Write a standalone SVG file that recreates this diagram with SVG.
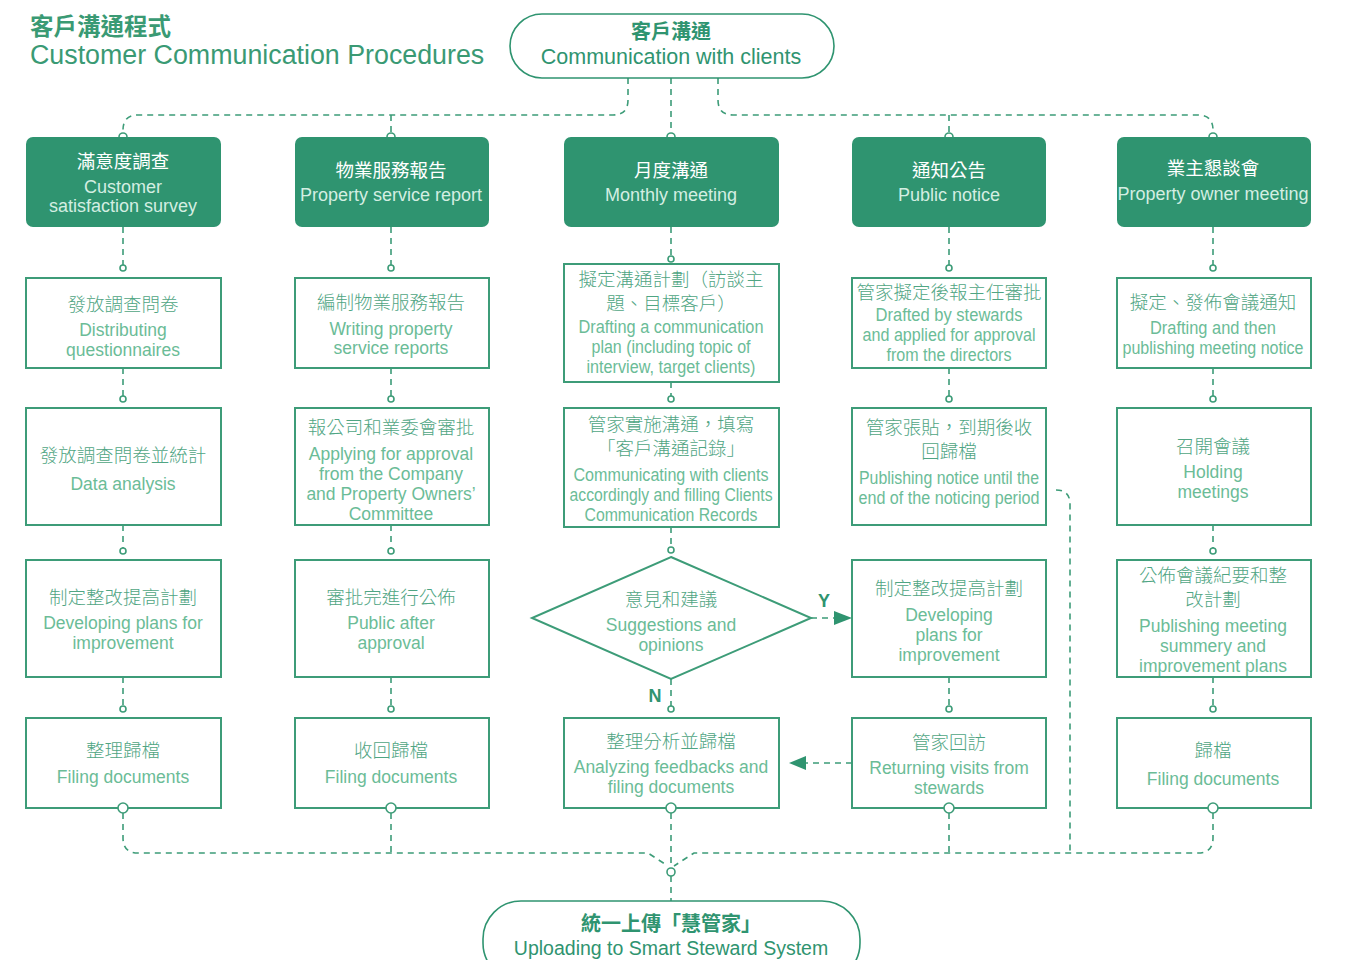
<svg xmlns="http://www.w3.org/2000/svg" width="1345" height="960" viewBox="0 0 1345 960">
<style>
text{font-family:"Liberation Sans","Noto Sans CJK TC",sans-serif;text-anchor:middle}
.cn{font-family:"Noto Sans CJK TC","Noto Sans",sans-serif;font-size:18.5px;fill:#4fa583;font-weight:300}
.en{font-size:17.5px;fill:#6bbc97}
.hcn{font-family:"Noto Sans CJK TC","Noto Sans",sans-serif;font-size:18.5px;fill:#ffffff}
.hen{font-size:18px;fill:#d4eee2}
.hdr{fill:#2f9470}
.box{fill:#fff;stroke:#3d9c78;stroke-width:2}
.pill{fill:#fff;stroke:#2f9470;stroke-width:1.6}
.dash{fill:none;stroke:#3d9c78;stroke-width:1.6;stroke-dasharray:6 5}
.dot{fill:#fff;stroke:#3d9c78;stroke-width:1.6}
.arr{fill:#2f9470}
.lbl{font-size:18px;fill:#2f9470;font-weight:bold}
.tcn{font-family:"Noto Sans CJK TC","Noto Sans",sans-serif;fill:#2f9470;font-weight:bold}
.ten{fill:#2f9470}
</style>
<rect width="1345" height="960" fill="#fff"/>
<g id="title">
<text x="30" y="35" class="tcn" style="text-anchor:start;font-size:23.5px;fill:#3a9a74">客戶溝通程式</text>
<text x="30" y="64" class="ten" style="text-anchor:start;font-size:26.8px;fill:#3a9a74">Customer Communication Procedures</text>
</g>
<g id="connectors">
<path class="dash" d="M628,78 V100 Q628,115 613,115 H138 Q123,115 123,130 V133"/>
<path class="dash" d="M718,78 V100 Q718,115 733,115 H1198 Q1213,115 1213,130 V133"/>
<path class="dash" d="M391,115 V133 M949,115 V133 M671,78 V133"/>
<circle class="dot" cx="123" cy="137" r="4"/><circle class="dot" cx="391" cy="137" r="4"/><circle class="dot" cx="671" cy="137" r="4"/><circle class="dot" cx="949" cy="137" r="4"/><circle class="dot" cx="1213" cy="137" r="4"/>
<path class="dash" d="M123,227 V265 M391,227 V265 M671,227 V256 M949,227 V265 M1213,227 V265"/>
<circle class="dot" cx="123" cy="268" r="3"/><circle class="dot" cx="391" cy="268" r="3"/><circle class="dot" cx="671" cy="259" r="3"/><circle class="dot" cx="949" cy="268" r="3"/><circle class="dot" cx="1213" cy="268" r="3"/>
<path class="dash" d="M123,368 V396 M391,368 V396 M671,382 V396 M949,368 V396 M1213,368 V396"/>
<circle class="dot" cx="123" cy="399" r="3"/><circle class="dot" cx="391" cy="399" r="3"/><circle class="dot" cx="671" cy="399" r="3"/><circle class="dot" cx="949" cy="399" r="3"/><circle class="dot" cx="1213" cy="399" r="3"/>
<path class="dash" d="M123,525 V548 M391,525 V548 M671,527 V547 M1213,525 V548"/>
<circle class="dot" cx="123" cy="551" r="3"/><circle class="dot" cx="391" cy="551" r="3"/><circle class="dot" cx="671" cy="550" r="3"/><circle class="dot" cx="1213" cy="551" r="3"/>
<path class="dash" d="M123,677 V706 M391,677 V706 M671,679 V706 M949,677 V706 M1213,677 V706"/>
<circle class="dot" cx="123" cy="709" r="3"/><circle class="dot" cx="391" cy="709" r="3"/><circle class="dot" cx="671" cy="709" r="3"/><circle class="dot" cx="949" cy="709" r="3"/><circle class="dot" cx="1213" cy="709" r="3"/>
<path class="dash" d="M811,618 H836"/>
<polygon class="arr" points="834,611 852,618 834,625"/>
<path class="dash" d="M852,763 H806"/>
<polygon class="arr" points="789,763 806,756 806,770"/>
<path class="dash" d="M123,813 V838 Q123,853 138,853 H648 L668,866"/>
<path class="dash" d="M1213,813 V838 Q1213,853 1198,853 H694 L674,866"/>
<path class="dash" d="M391,813 V853 M949,813 V853 M671,813 V868 M671,876 V901"/>
<path class="dash" d="M1056,490 Q1070,490 1070,504 V853"/>
<circle class="dot" cx="671" cy="872" r="4"/>
<text x="824" y="607" class="lbl">Y</text>
<text x="655" y="702" class="lbl">N</text>
</g>
<g id="start">
<rect class="pill" x="510" y="14" width="324" height="64" rx="32"/>
<text x="671" y="39" class="tcn" style="font-size:20px">客戶溝通</text>
<text x="671" y="64" class="ten" style="font-size:21.5px">Communication with clients</text>
</g>
<g id="end">
<rect class="pill" x="483" y="901" width="377" height="80" rx="38"/>
<text x="671" y="931" class="tcn" style="font-size:20px">統一上傳「慧管家」</text>
<text x="671" y="955" class="ten" style="font-size:19.5px">Uploading to Smart Steward System</text>
</g>
<g id="h1"><rect class="hdr" x="26" y="137" width="195" height="90" rx="7"/>
<text x="123" y="168" class="hcn">滿意度調查</text><text x="123" y="193" class="hen">Customer</text><text x="123" y="212" class="hen">satisfaction survey</text></g>
<g id="h2"><rect class="hdr" x="295" y="137" width="194" height="90" rx="7"/>
<text x="391" y="177" class="hcn">物業服務報告</text><text x="391" y="201" class="hen">Property service report</text></g>
<g id="h3"><rect class="hdr" x="564" y="137" width="215" height="90" rx="7"/>
<text x="671" y="177" class="hcn">月度溝通</text><text x="671" y="201" class="hen">Monthly meeting</text></g>
<g id="h4"><rect class="hdr" x="852" y="137" width="194" height="90" rx="7"/>
<text x="949" y="177" class="hcn">通知公告</text><text x="949" y="201" class="hen">Public notice</text></g>
<g id="h5"><rect class="hdr" x="1117" y="137" width="194" height="90" rx="7"/>
<text x="1213" y="175" class="hcn">業主懇談會</text><text x="1213" y="200" class="hen">Property owner meeting</text></g>
<g id="r2c1"><rect class="box" x="26" y="278" width="195" height="90"/>
<text x="123" y="311" class="cn">發放調查問卷</text><text x="123" y="336" class="en">Distributing</text><text x="123" y="356" class="en">questionnaires</text></g>
<g id="r2c2"><rect class="box" x="295" y="278" width="194" height="90"/>
<text x="391" y="309" class="cn">編制物業服務報告</text><text x="391" y="335" class="en">Writing property</text><text x="391" y="354" class="en">service reports</text></g>
<g id="r2c3"><rect class="box" x="564" y="264" width="215" height="118"/>
<text x="671" y="286" class="cn">擬定溝通計劃（訪談主</text><text x="671" y="310" class="cn">題、目標客戶）</text>
<text x="671" y="333" class="en" textLength="185" lengthAdjust="spacingAndGlyphs">Drafting a communication</text><text x="671" y="353" class="en" textLength="159" lengthAdjust="spacingAndGlyphs">plan (including topic of</text><text x="671" y="373" class="en" textLength="169" lengthAdjust="spacingAndGlyphs">interview, target clients)</text></g>
<g id="r2c4"><rect class="box" x="852" y="278" width="194" height="90"/>
<text x="949" y="299" class="cn">管家擬定後報主任審批</text><text x="949" y="321" class="en" textLength="147" lengthAdjust="spacingAndGlyphs">Drafted by stewards</text><text x="949" y="341" class="en" textLength="173" lengthAdjust="spacingAndGlyphs">and applied for approval</text><text x="949" y="361" class="en" textLength="125" lengthAdjust="spacingAndGlyphs">from the directors</text></g>
<g id="r2c5"><rect class="box" x="1117" y="278" width="194" height="90"/>
<text x="1213" y="309" class="cn">擬定、發佈會議通知</text><text x="1213" y="334" class="en" textLength="126" lengthAdjust="spacingAndGlyphs">Drafting and then</text><text x="1213" y="354" class="en" textLength="181" lengthAdjust="spacingAndGlyphs">publishing meeting notice</text></g>
<g id="r3c1"><rect class="box" x="26" y="408" width="195" height="117"/>
<text x="123" y="462" class="cn">發放調查問卷並統計</text><text x="123" y="490" class="en">Data analysis</text></g>
<g id="r3c2"><rect class="box" x="295" y="408" width="194" height="117"/>
<text x="391" y="434" class="cn">報公司和業委會審批</text><text x="391" y="460" class="en">Applying for approval</text><text x="391" y="480" class="en">from the Company</text><text x="391" y="500" class="en">and Property Owners’</text><text x="391" y="520" class="en">Committee</text></g>
<g id="r3c3"><rect class="box" x="564" y="408" width="215" height="119"/>
<text x="671" y="431" class="cn">管家實施溝通，填寫</text><text x="671" y="455" class="cn">「客戶溝通記錄」</text>
<text x="671" y="481" class="en" textLength="195" lengthAdjust="spacingAndGlyphs">Communicating with clients</text><text x="671" y="501" class="en" textLength="203" lengthAdjust="spacingAndGlyphs">accordingly and filling Clients</text><text x="671" y="521" class="en" textLength="173" lengthAdjust="spacingAndGlyphs">Communication Records</text></g>
<g id="r3c4"><rect class="box" x="852" y="408" width="194" height="117"/>
<text x="949" y="434" class="cn">管家張貼，到期後收</text><text x="949" y="458" class="cn">回歸檔</text><text x="949" y="484" class="en" textLength="180" lengthAdjust="spacingAndGlyphs">Publishing notice until the</text><text x="949" y="504" class="en" textLength="181" lengthAdjust="spacingAndGlyphs">end of the noticing period</text></g>
<g id="r3c5"><rect class="box" x="1117" y="408" width="194" height="117"/>
<text x="1213" y="453" class="cn">召開會議</text><text x="1213" y="478" class="en">Holding</text><text x="1213" y="498" class="en">meetings</text></g>
<g id="r4c1"><rect class="box" x="26" y="560" width="195" height="117"/>
<text x="123" y="604" class="cn">制定整改提高計劃</text><text x="123" y="629" class="en">Developing plans for</text><text x="123" y="649" class="en">improvement</text></g>
<g id="r4c2"><rect class="box" x="295" y="560" width="194" height="117"/>
<text x="391" y="604" class="cn">審批完進行公佈</text><text x="391" y="629" class="en">Public after</text><text x="391" y="649" class="en">approval</text></g>
<g id="r4c3"><polygon class="box" points="671,557 811,618 671,679 532,618"/>
<text x="671" y="606" class="cn">意見和建議</text><text x="671" y="631" class="en">Suggestions and</text><text x="671" y="651" class="en">opinions</text></g>
<g id="r4c4"><rect class="box" x="852" y="560" width="194" height="117"/>
<text x="949" y="595" class="cn">制定整改提高計劃</text><text x="949" y="621" class="en">Developing</text><text x="949" y="641" class="en">plans for</text><text x="949" y="661" class="en">improvement</text></g>
<g id="r4c5"><rect class="box" x="1117" y="560" width="194" height="117"/>
<text x="1213" y="582" class="cn">公佈會議紀要和整</text><text x="1213" y="606" class="cn">改計劃</text><text x="1213" y="632" class="en">Publishing meeting</text><text x="1213" y="652" class="en">summery and</text><text x="1213" y="672" class="en">improvement plans</text></g>
<g id="r5c1"><rect class="box" x="26" y="718" width="195" height="90"/>
<text x="123" y="757" class="cn">整理歸檔</text><text x="123" y="783" class="en">Filing documents</text></g>
<g id="r5c2"><rect class="box" x="295" y="718" width="194" height="90"/>
<text x="391" y="757" class="cn">收回歸檔</text><text x="391" y="783" class="en">Filing documents</text></g>
<g id="r5c3"><rect class="box" x="564" y="718" width="215" height="90"/>
<text x="671" y="748" class="cn">整理分析並歸檔</text><text x="671" y="773" class="en">Analyzing feedbacks and</text><text x="671" y="793" class="en">filing documents</text></g>
<g id="r5c4"><rect class="box" x="852" y="718" width="194" height="90"/>
<text x="949" y="749" class="cn">管家回訪</text><text x="949" y="774" class="en">Returning visits from</text><text x="949" y="794" class="en">stewards</text></g>
<g id="r5c5"><rect class="box" x="1117" y="718" width="194" height="90"/>
<text x="1213" y="757" class="cn">歸檔</text><text x="1213" y="785" class="en">Filing documents</text></g>
<g id="bottom-dots">
<circle class="dot" cx="123" cy="808" r="5"/><circle class="dot" cx="391" cy="808" r="5"/><circle class="dot" cx="671" cy="808" r="5"/><circle class="dot" cx="949" cy="808" r="5"/><circle class="dot" cx="1213" cy="808" r="5"/>
</g>
</svg>
